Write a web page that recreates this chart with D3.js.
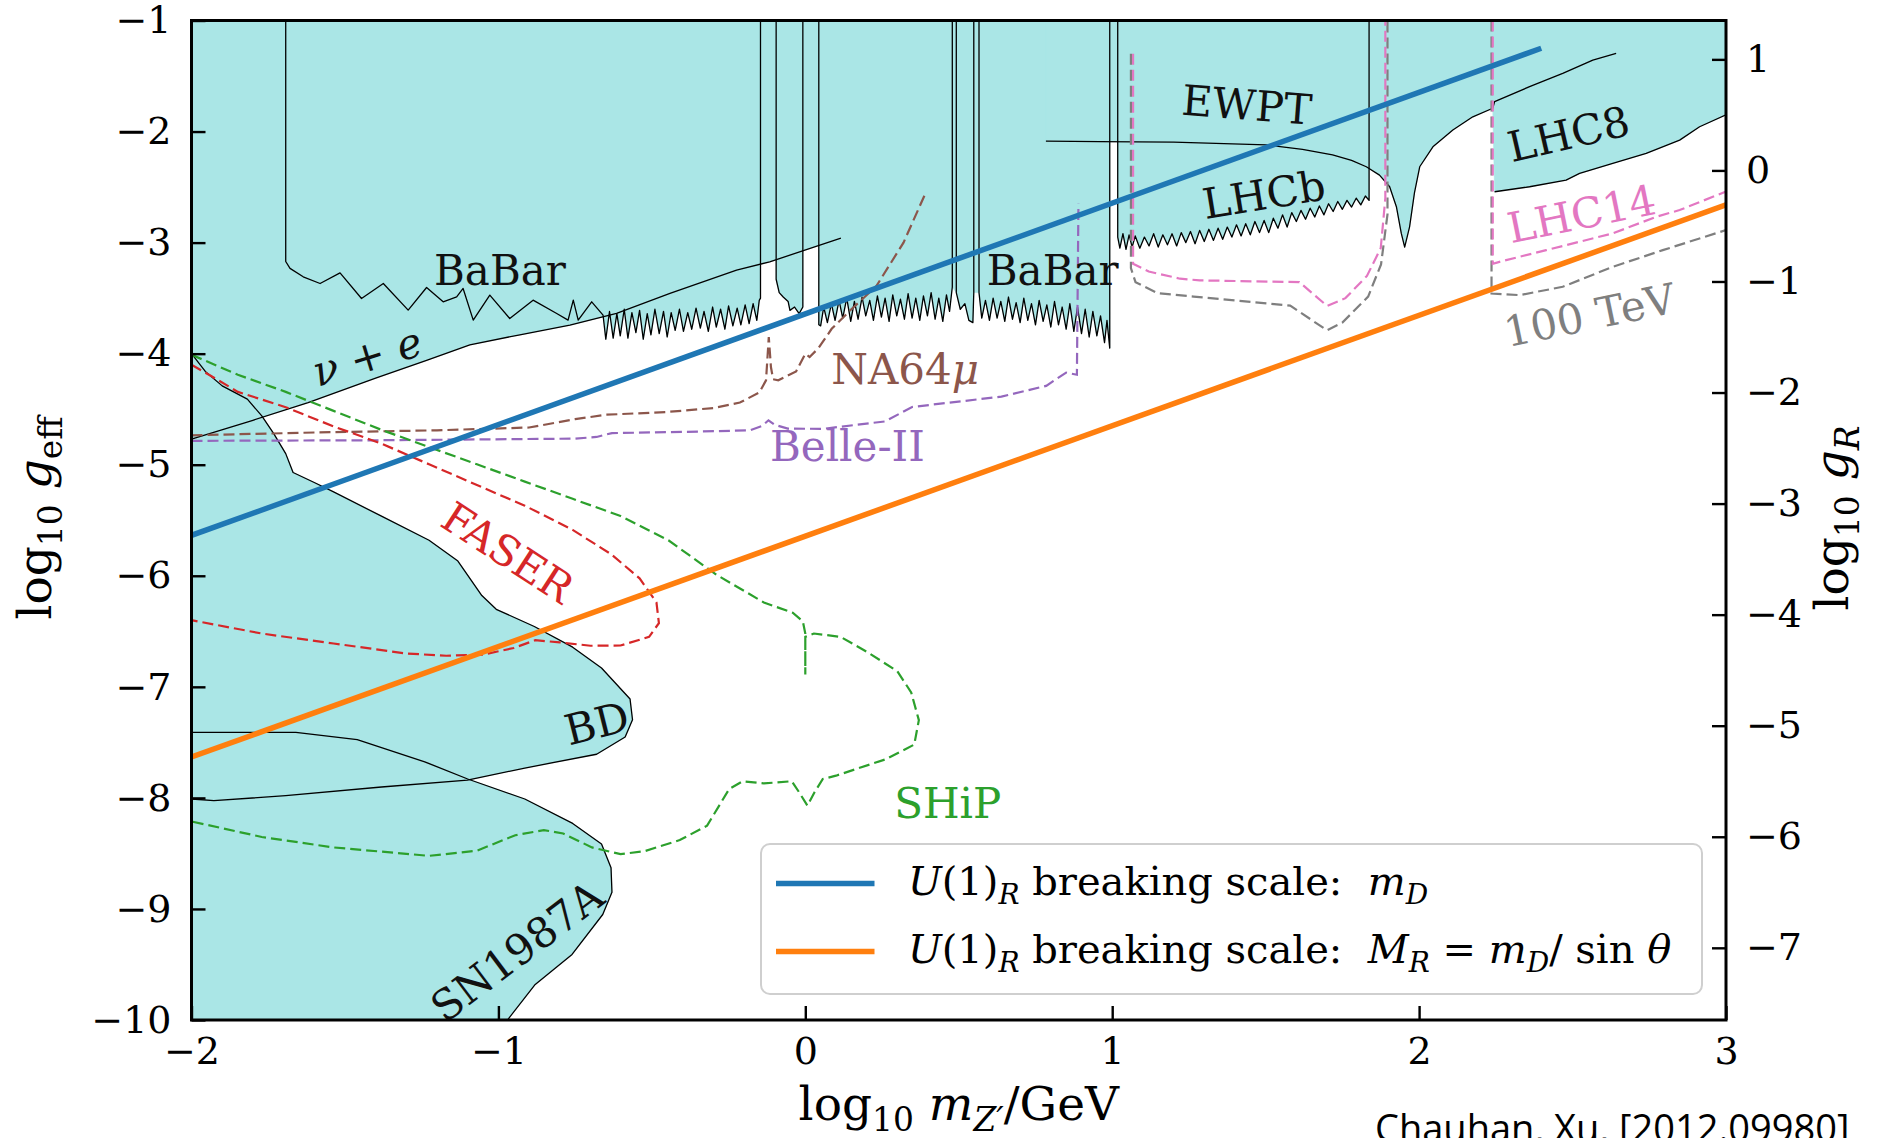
<!DOCTYPE html>
<html>
<head>
<meta charset="utf-8">
<title>U(1)R breaking scale vs Z' limits</title>
<script src="https://cdn.jsdelivr.net/npm/d3@7/dist/d3.min.js"></script>
<style>
  html, body { margin: 0; padding: 0; background: #fff; }
  svg { display: block; }
  text { white-space: pre; }
</style>
</head>
<body>
<svg id="chart" width="1877" height="1138"></svg>
<script>
// ---- axes ----
const xDomain = [-2, 3];
const yDomain = [-10, -1];
const gRDomain = [-7.65, 1.35];   // right axis: log10 gR
const xTicks = [-2, -1, 0, 1, 2, 3];
const yTicks = [-10, -9, -8, -7, -6, -5, -4, -3, -2, -1];
const gRTicks = [-7, -6, -5, -4, -3, -2, -1, 0, 1];

// ---- excluded regions: [log10 m, log10 geff] ----
const nuE = [[-2,-4.77],[-1.80,-4.60],[-1.62,-4.44],[-1.40,-4.22],[-1.234,-4.06],[-1.093,-3.92],[-0.93,-3.83],[-0.767,-3.743],[-0.615,-3.638],[-0.441,-3.458],[-0.224,-3.248],[-0.116,-3.173],[0.116,-2.96]];

const babarLeft = [[-1.693,-1],[-1.693,-3.17],[-1.679,-3.232],[-1.636,-3.308],[-1.581,-3.368],[-1.516,-3.272],[-1.446,-3.503],[-1.375,-3.368],[-1.294,-3.608],[-1.234,-3.404],[-1.18,-3.533],[-1.136,-3.488],[-1.115,-3.413],[-1.082,-3.698],[-1.028,-3.473],[-0.963,-3.683],[-0.887,-3.518],[-0.81,-3.638],[-0.773,-3.698],[-0.756,-3.518],[-0.74,-3.698],[-0.696,-3.533],[-0.659,-3.653],
  [-0.65,-3.87],[-0.638,-3.62],[-0.626,-3.86],[-0.614,-3.64],[-0.603,-3.84],[-0.59,-3.60],[-0.578,-3.86],[-0.565,-3.63],[-0.552,-3.81],[-0.54,-3.61],[-0.528,-3.87],[-0.515,-3.64],[-0.503,-3.83],[-0.49,-3.60],[-0.476,-3.82],[-0.462,-3.62],[-0.45,-3.85],[-0.437,-3.63],[-0.424,-3.79],[-0.41,-3.60],[-0.397,-3.80],[-0.383,-3.63],[-0.37,-3.78],[-0.356,-3.59],[-0.342,-3.77],[-0.33,-3.62],[-0.316,-3.80],[-0.302,-3.58],[-0.29,-3.76],[-0.276,-3.60],[-0.262,-3.78],[-0.25,-3.57],[-0.236,-3.75],[-0.222,-3.59],[-0.21,-3.74],[-0.196,-3.56],[-0.183,-3.73],[-0.17,-3.55],[-0.158,-3.70],[-0.15,-3.52],[-0.146,-3.5],[-0.146,-1]];

const babarOmega = [[-0.095,-1],[-0.095,-3.33],[-0.085,-3.45],[-0.072,-3.49],[-0.056,-3.53],[-0.05,-3.61],[-0.035,-3.58],[-0.02,-3.64],[-0.008,-3.58],[-0.008,-1]];

const babarRight = [[0.044,-1],[0.044,-3.74],[0.05,-3.75],[0.06,-3.58],[0.072,-3.72],[0.085,-3.55],[0.097,-3.70],[0.11,-3.52],[0.122,-3.68],[0.135,-3.50],[0.148,-3.71],[0.16,-3.53],[0.172,-3.69],[0.185,-3.49],[0.197,-3.66],[0.21,-3.52],[0.222,-3.70],[0.235,-3.48],[0.248,-3.67],[0.26,-3.50],[0.273,-3.71],[0.285,-3.47],[0.298,-3.66],[0.31,-3.51],[0.323,-3.69],[0.335,-3.46],[0.348,-3.68],[0.36,-3.50],[0.373,-3.70],[0.385,-3.48],[0.398,-3.66],[0.41,-3.45],[0.423,-3.69],[0.435,-3.50],[0.448,-3.71],[0.46,-3.47],[0.47,-3.62],[0.479,-3.40],[0.479,-1],
  [0.492,-1],[0.492,-3.45],[0.505,-3.60],[0.52,-3.55],[0.533,-3.70],[0.546,-3.72],[0.549,-3.45],[0.549,-1],
  [0.566,-1],[0.566,-3.45],[0.575,-3.68],[0.587,-3.52],[0.60,-3.70],[0.612,-3.50],[0.625,-3.68],[0.637,-3.53],[0.65,-3.71],[0.662,-3.49],[0.675,-3.69],[0.687,-3.54],[0.70,-3.72],[0.712,-3.50],[0.725,-3.70],[0.737,-3.55],[0.75,-3.74],[0.762,-3.52],[0.775,-3.71],[0.787,-3.56],[0.80,-3.76],[0.812,-3.53],[0.825,-3.74],[0.837,-3.58],[0.85,-3.78],[0.862,-3.55],[0.875,-3.80],[0.887,-3.58],[0.90,-3.82],[0.912,-3.60],[0.925,-3.85],[0.937,-3.62],[0.95,-3.84],[0.962,-3.66],[0.975,-3.90],[0.983,-3.70],[0.992,-3.95],[0.992,-1]];

const lhcb = [[1.018,-1],[1.018,-2.95],[1.025,-3.05],[1.035,-2.92],[1.045,-3.06],[1.055,-2.93],[1.065,-3.04],[1.075,-2.94],[1.09,-3.05],[1.105,-2.95],[1.12,-3.03],[1.135,-2.92],[1.15,-3.04],[1.165,-2.93],[1.18,-3.02],[1.195,-2.92],[1.21,-3.03],[1.225,-2.91],[1.24,-3.0],[1.255,-2.90],[1.27,-3.01],[1.285,-2.89],[1.30,-2.99],[1.315,-2.88],[1.33,-2.98],[1.345,-2.87],[1.36,-2.97],[1.375,-2.86],[1.39,-2.95],[1.405,-2.84],[1.42,-2.94],[1.435,-2.83],[1.45,-2.93],[1.465,-2.81],[1.48,-2.91],[1.495,-2.80],[1.51,-2.91],[1.525,-2.78],[1.54,-2.87],[1.555,-2.75],[1.57,-2.86],[1.585,-2.73],[1.60,-2.81],[1.615,-2.71],[1.63,-2.79],[1.645,-2.69],[1.66,-2.77],[1.675,-2.67],[1.69,-2.75],[1.705,-2.65],[1.72,-2.72],[1.735,-2.63],[1.75,-2.70],[1.765,-2.62],[1.78,-2.68],[1.795,-2.60],[1.81,-2.66],[1.825,-2.58],[1.837,-2.62],[1.837,-1]];

const ewpt = [[0.784,-2.086],[0.959,-2.09],[1.2,-2.095],[1.502,-2.12],[1.62,-2.16],[1.718,-2.21],[1.78,-2.26],[1.828,-2.317],[1.871,-2.392],[1.904,-2.497],[1.926,-2.677],[1.942,-2.917],[1.953,-3.04],[1.969,-2.858],[1.985,-2.55],[2.002,-2.317],[2.045,-2.137],[2.110,-1.986],[2.175,-1.867],[2.240,-1.79],[2.246,-1.731],[2.36,-1.596],[2.468,-1.476],[2.566,-1.356],[2.642,-1.296]];

const lhc8Low = [[2.246,-2.542],[2.36,-2.497],[2.479,-2.437],[2.523,-2.377],[2.631,-2.287],[2.74,-2.197],[2.849,-2.077],[2.914,-1.957],[3.0,-1.85]];

const bd = [[-2,-4.0],[-1.955,-4.16],[-1.90,-4.29],[-1.818,-4.41],[-1.771,-4.56],[-1.732,-4.72],[-1.693,-4.90],[-1.669,-5.07],[-1.60,-5.16],[-1.537,-5.245],[-1.381,-5.463],[-1.226,-5.68],[-1.132,-5.867],[-1.054,-6.178],[-1.007,-6.302],[-0.883,-6.457],[-0.758,-6.643],[-0.664,-6.83],[-0.571,-7.11],[-0.563,-7.296],[-0.587,-7.452],[-0.68,-7.607],[-0.914,-7.731],[-1.101,-7.84],[-1.381,-7.902],[-1.693,-7.98],[-1.927,-8.025],[-2,-8.01]];

const sn1987a = [[-2,-7.41],[-1.66,-7.41],[-1.46,-7.475],[-1.24,-7.675],[-1.10,-7.83],[-0.914,-8.01],[-0.758,-8.23],[-0.664,-8.415],[-0.633,-8.63],[-0.63,-8.85],[-0.66,-9.05],[-0.76,-9.41],[-0.88,-9.68],[-0.965,-9.98],[-0.97,-10]];

// ---- projected sensitivities (dashed) ----
const na64mu = [[-2,-4.735],[-1.6,-4.71],[-1.2,-4.69],[-0.9,-4.665],[-0.75,-4.59],[-0.65,-4.55],[-0.45,-4.525],[-0.3,-4.49],[-0.213,-4.44],[-0.15,-4.35],[-0.128,-4.24],[-0.119,-3.85],[-0.112,-4.12],[-0.105,-4.23],[-0.088,-4.24],[-0.03,-4.16],[0.0,-4.0],[0.014,-4.03],[0.043,-3.95],[0.086,-3.776],[0.145,-3.614],[0.232,-3.39],[0.32,-3.0],[0.392,-2.553]];

const belle2 = [[-2,-4.785],[-1.4,-4.78],[-0.75,-4.765],[-0.68,-4.75],[-0.63,-4.715],[-0.4,-4.705],[-0.18,-4.69],[-0.14,-4.65],[-0.12,-4.60],[-0.10,-4.64],[-0.057,-4.675],[0.057,-4.677],[0.26,-4.61],[0.348,-4.48],[0.639,-4.387],[0.785,-4.29],[0.85,-4.17],[0.885,-4.19],[0.89,-2.65]];

const faser = [[-2,-4.10],[-1.943,-4.19],[-1.849,-4.344],[-1.693,-4.482],[-1.537,-4.655],[-1.381,-4.81],[-1.226,-4.996],[-1.07,-5.183],[-0.914,-5.369],[-0.758,-5.587],[-0.633,-5.805],[-0.54,-6.023],[-0.485,-6.24],[-0.477,-6.426],[-0.509,-6.55],[-0.602,-6.628],[-0.70,-6.63],[-0.80,-6.60],[-0.88,-6.58],[-0.95,-6.65],[-1.05,-6.71],[-1.17,-6.72],[-1.30,-6.70],[-1.537,-6.61],[-1.771,-6.52],[-2,-6.40]];

const ship = [[-2,-4.01],[-1.849,-4.19],[-1.693,-4.344],[-1.537,-4.515],[-1.381,-4.686],[-1.226,-4.841],[-1.07,-4.996],[-0.914,-5.152],[-0.758,-5.307],[-0.602,-5.462],[-0.446,-5.68],[-0.29,-5.99],[-0.135,-6.24],[-0.041,-6.333],[-0.008,-6.41],[0.0,-6.52],[0.0,-6.89],[0.0,-6.55],[0.028,-6.52],[0.115,-6.55],[0.204,-6.69],[0.30,-6.86],[0.345,-7.05],[0.37,-7.30],[0.355,-7.52],[0.261,-7.653],[0.10,-7.80],[0.057,-7.83],[0.03,-7.95],[0.007,-8.07],[-0.02,-7.95],[-0.044,-7.85],[-0.135,-7.87],[-0.204,-7.85],[-0.248,-7.92],[-0.32,-8.25],[-0.409,-8.38],[-0.524,-8.48],[-0.602,-8.507],[-0.695,-8.446],[-0.789,-8.321],[-0.852,-8.29],[-0.945,-8.336],[-1.07,-8.476],[-1.226,-8.522],[-1.537,-8.446],[-1.771,-8.352],[-2,-8.212]];

const lhc14Low = [[1.068,-1.30],[1.068,-3.19],[1.119,-3.26],[1.221,-3.325],[1.285,-3.34],[1.61,-3.356],[1.70,-3.57],[1.76,-3.50],[1.83,-3.30],[1.875,-3.05],[1.89,-2.6],[1.89,-1]];
const lhc14High = [[2.24,-1],[2.24,-3.19],[2.262,-3.173],[2.414,-3.068],[2.631,-2.917],[2.773,-2.767],[2.849,-2.707],[3.0,-2.54]];
const tev100Low = [[1.061,-1.30],[1.061,-3.23],[1.076,-3.356],[1.148,-3.455],[1.265,-3.486],[1.58,-3.567],[1.70,-3.79],[1.75,-3.72],[1.834,-3.486],[1.876,-3.196],[1.897,-2.746],[1.897,-1]];
const tev100High = [[2.236,-1],[2.236,-3.458],[2.327,-3.473],[2.468,-3.398],[2.631,-3.218],[2.794,-3.068],[3.0,-2.887]];

// ---- U(1)R breaking scale lines ----
const scaleMD = [[-2,-5.636],[2.398,-1.25]];
const scaleMR = [[-2,-7.632],[3,-2.66]];

// ---- text ----
const regionLabels = [
  {parts:[{t:'BaBar'}], at:[-0.995,-3.383], rot:0, color:'#111'},
  {parts:[{t:'BaBar'}], at:[0.806,-3.383], rot:0, color:'#111'},
  {parts:[{t:'ν',i:1},{t:' + '},{t:'e',i:1}], at:[-1.414,-4.153], rot:-17, color:'#111'},
  {parts:[{t:'EWPT'}], at:[1.435,-1.893], rot:4.5, color:'#111'},
  {parts:[{t:'LHCb'}], at:[1.502,-2.698], rot:-9.2, color:'#111'},
  {parts:[{t:'LHC8'}], at:[2.498,-2.151], rot:-13, color:'#111'},
  {parts:[{t:'LHC14'}], at:[2.539,-2.872], rot:-11.5, color:'#e377c2'},
  {parts:[{t:'100 TeV'}], at:[2.565,-3.784], rot:-11.7, color:'#7f7f7f'},
  {parts:[{t:'NA64'},{t:'μ',i:1}], at:[0.325,-4.275], rot:0, color:'#8c564b'},
  {parts:[{t:'Belle-II'}], at:[0.137,-4.966], rot:0, color:'#9467bd'},
  {parts:[{t:'FASER'}], at:[-0.969,-5.789], rot:33, color:'#d62728', mid:1},
  {parts:[{t:'BD'}], at:[-0.68,-7.327], rot:-14, color:'#111', mid:1},
  {parts:[{t:'SN1987A'}], at:[-0.94,-9.378], rot:-37, color:'#111', mid:1},
  {parts:[{t:'SHiP'}], at:[0.464,-8.185], rot:0, color:'#2ca02c'}
];
const legendItems = [
  {color:'#1f77b4', parts:[{t:'U',i:1},{t:'(1)'},{t:'R',i:1,sub:1},{t:' breaking scale:  '},{t:'m',i:1},{t:'D',i:1,sub:1}]},
  {color:'#ff7f0e', parts:[{t:'U',i:1},{t:'(1)'},{t:'R',i:1,sub:1},{t:' breaking scale:  '},{t:'M',i:1},{t:'R',i:1,sub:1},{t:' = '},{t:'m',i:1},{t:'D',i:1,sub:1},{t:'/ sin '},{t:'θ',i:1}]}
];
const xTitle = [{t:'log'},{t:'10',sub:1},{t:' '},{t:'m',i:1},{t:'Z′',i:1,sub:1},{t:'/GeV'}];
const yTitle = [{t:'log'},{t:'10',sub:1},{t:' '},{t:'g',i:1},{t:'eff',sub:1}];
const gRTitle = [{t:'log'},{t:'10',sub:1},{t:' '},{t:'g',i:1},{t:'R',i:1,sub:1}];
const credit = 'Chauhan, Xu, [2012.09980]';

// ---- layout ----
const width = 1877, height = 1138;
const margin = {left: 191.5, right: 151, top: 20.5, bottom: 118};
const serif = '"DejaVu Serif", serif';
const cyan = '#aae6e6';

const svg = d3.select('#chart');
const x = d3.scaleLinear().domain(xDomain).range([margin.left, width - margin.right]);
const y = d3.scaleLinear().domain(yDomain).range([height - margin.bottom, margin.top]);
const yR = d3.scaleLinear().domain(gRDomain).range([height - margin.bottom, margin.top]);
const line = d3.line().x(d => x(d[0])).y(d => y(d[1]));

svg.append('rect').attr('width', width).attr('height', height).attr('fill', '#fff');

svg.append('defs').append('clipPath').attr('id', 'plotClip')
  .append('rect')
  .attr('x', x(xDomain[0])).attr('y', y(yDomain[1]))
  .attr('width', x(xDomain[1]) - x(xDomain[0]))
  .attr('height', y(yDomain[0]) - y(yDomain[1]));

const plotG = svg.append('g').attr('clip-path', 'url(#plotClip)');

// cyan excluded regions
const topOnly = (p, i, a) => p[1] !== -1 || i === 0 || i === a.length - 1;
const fills = [
  [[-2,-1], ...nuE, [0.116,-1]],
  babarLeft,
  babarOmega,
  babarRight.filter(topOnly),
  lhcb,
  [[0.784,-1], ...ewpt.filter(p => p[0] <= 2.24), ...lhc8Low, [3,-1]],
  bd,
  [[-2,-10], ...sn1987a]
];
plotG.selectAll('path.fill')
  .data(fills)
  .join('path')
  .attr('class', 'fill')
  .attr('d', d => line(d) + 'Z')
  .attr('fill', cyan)
  .attr('stroke', cyan)
  .attr('stroke-width', 0.6);

// black outlines
plotG.selectAll('path.edge')
  .data([nuE, babarLeft, babarOmega, babarRight, lhcb, ewpt, lhc8Low, bd, sn1987a])
  .join('path')
  .attr('class', 'edge')
  .attr('d', line)
  .attr('fill', 'none')
  .attr('stroke', '#000')
  .attr('stroke-width', 1.3)
  .attr('stroke-linejoin', 'round');

// dashed projections
const dashed = [
  {pts: tev100Low, color: '#7f7f7f'},
  {pts: tev100High, color: '#7f7f7f'},
  {pts: lhc14Low, color: '#e377c2'},
  {pts: lhc14High, color: '#e377c2'},
  {pts: na64mu, color: '#8c564b'},
  {pts: belle2, color: '#9467bd'},
  {pts: faser, color: '#d62728'},
  {pts: ship, color: '#2ca02c'}
];
plotG.selectAll('path.proj')
  .data(dashed)
  .join('path')
  .attr('class', 'proj')
  .attr('d', d => line(d.pts))
  .attr('fill', 'none')
  .attr('stroke', d => d.color)
  .attr('stroke-width', 2.2)
  .attr('stroke-dasharray', '11,5');

// breaking scale lines
plotG.append('path').attr('d', line(scaleMD)).attr('fill', 'none')
  .attr('stroke', '#1f77b4').attr('stroke-width', 5.5);
plotG.append('path').attr('d', line(scaleMR)).attr('fill', 'none')
  .attr('stroke', '#ff7f0e').attr('stroke-width', 5.5);

// rich text (italics, subscripts)
function rich(sel, parts, fs) {
  let shift = 0;
  parts.forEach(p => {
    const ts = sel.append('tspan').text(p.t);
    if (p.i) ts.attr('font-style', 'italic');
    const target = p.sub ? fs * 0.24 : 0;
    if (target !== shift) { ts.attr('dy', target - shift); shift = target; }
    if (p.sub) ts.attr('font-size', fs * 0.7);
  });
  return sel;
}

// region labels
const labelSize = 42;
regionLabels.forEach(l => {
  const t = svg.append('text')
    .attr('transform', `translate(${x(l.at[0])},${y(l.at[1])}) rotate(${l.rot})`)
    .attr('text-anchor', 'middle')
    .attr('dominant-baseline', l.mid ? 'central' : 'alphabetic')
    .attr('font-family', serif)
    .attr('font-size', labelSize)
    .attr('fill', l.color);
  rich(t, l.parts, labelSize);
});

// axes (ticks point inward)
const tickSize = 38;
const intFmt = d3.format('d');
function styleAxis(g) {
  g.select('.domain').remove();
  g.attr('font-family', serif).attr('font-size', tickSize);
  g.selectAll('.tick line').attr('stroke', '#000').attr('stroke-width', 2.4);
  g.selectAll('.tick text').attr('fill', '#000');
}
svg.append('g')
  .attr('transform', `translate(0,${y(yDomain[0])})`)
  .call(d3.axisBottom(x).tickValues(xTicks).tickFormat(intFmt).tickSizeInner(-14).tickSizeOuter(0).tickPadding(17))
  .call(styleAxis);
svg.append('g')
  .attr('transform', `translate(${x(xDomain[0])},0)`)
  .call(d3.axisLeft(y).tickValues(yTicks).tickFormat(intFmt).tickSizeInner(-14).tickSizeOuter(0).tickPadding(20))
  .call(styleAxis);
svg.append('g')
  .attr('transform', `translate(${x(xDomain[1])},0)`)
  .call(d3.axisRight(yR).tickValues(gRTicks).tickFormat(intFmt).tickSizeInner(-14).tickSizeOuter(0).tickPadding(20))
  .call(styleAxis);

// frame
svg.append('rect')
  .attr('x', x(xDomain[0])).attr('y', y(yDomain[1]))
  .attr('width', x(xDomain[1]) - x(xDomain[0]))
  .attr('height', y(yDomain[0]) - y(yDomain[1]))
  .attr('fill', 'none').attr('stroke', '#000').attr('stroke-width', 3);

// legend
const legendSize = 40;
const leg = svg.append('g').attr('transform', 'translate(761,844)');
leg.append('rect')
  .attr('width', 941).attr('height', 150).attr('rx', 9)
  .attr('fill', '#fff').attr('fill-opacity', 0.85)
  .attr('stroke', '#cfcfcf').attr('stroke-width', 2);
legendItems.forEach((item, i) => {
  const cy = 39.6 + i * 67.9;
  leg.append('line')
    .attr('x1', 15).attr('x2', 113.5).attr('y1', cy).attr('y2', cy)
    .attr('stroke', item.color).attr('stroke-width', 5.5);
  const t = leg.append('text')
    .attr('x', 147).attr('y', cy + 11)
    .attr('font-family', serif).attr('font-size', legendSize).attr('fill', '#000');
  rich(t, item.parts, legendSize);
});

// axis titles
const titleSize = 47;
rich(svg.append('text')
  .attr('x', (x(xDomain[0]) + x(xDomain[1])) / 2).attr('y', 1120)
  .attr('text-anchor', 'middle')
  .attr('font-family', serif).attr('font-size', titleSize).attr('fill', '#000'), xTitle, titleSize);
rich(svg.append('text')
  .attr('transform', 'translate(51,518) rotate(-90)')
  .attr('text-anchor', 'middle')
  .attr('font-family', serif).attr('font-size', titleSize).attr('fill', '#000'), yTitle, titleSize);
rich(svg.append('text')
  .attr('transform', 'translate(1848,518) rotate(-90)')
  .attr('text-anchor', 'middle')
  .attr('font-family', serif).attr('font-size', titleSize).attr('fill', '#000'), gRTitle, titleSize);

// source note
svg.append('text')
  .attr('x', 1375).attr('y', 1142)
  .attr('font-family', '"Open Sans", "Noto Sans", sans-serif')
  .attr('font-size', 38).attr('fill', '#000')
  .text(credit);
</script>
</body>
</html>
